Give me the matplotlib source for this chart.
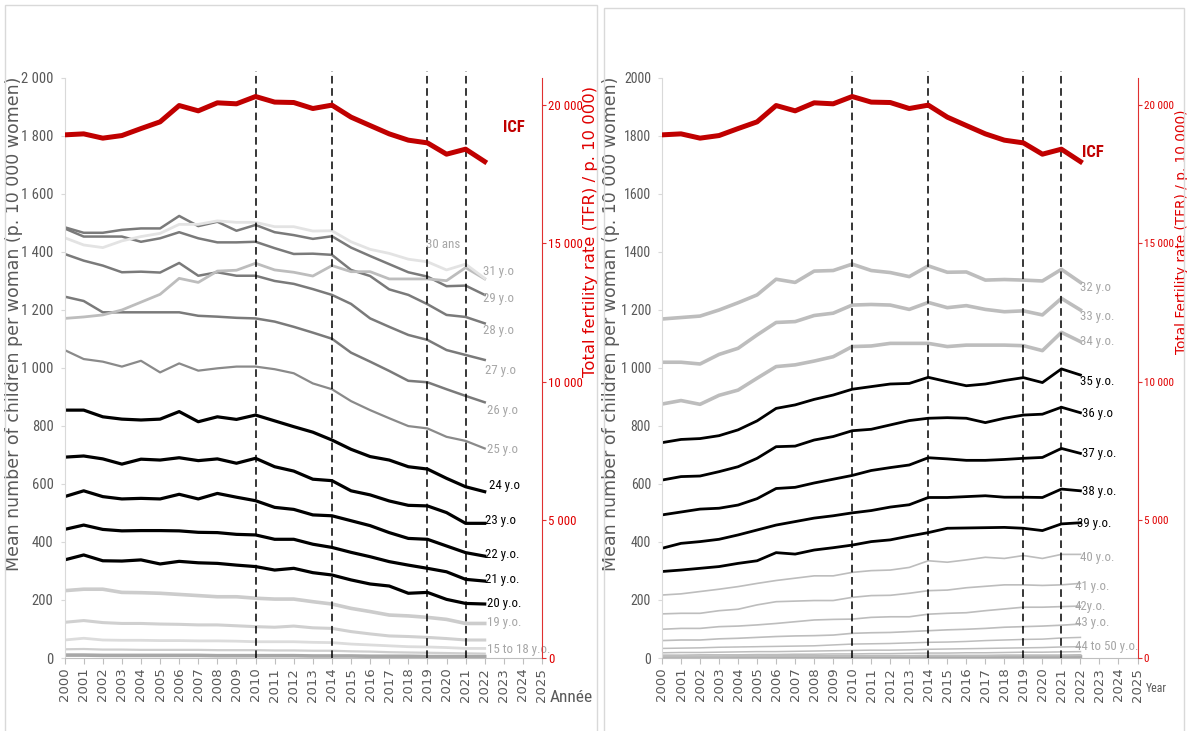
import os
import matplotlib
matplotlib.use("Agg")
import matplotlib.pyplot as plt
import matplotlib.font_manager as fm
from matplotlib.patches import Rectangle

# ---------------- data ----------------
years = list(range(2000, 2023))
icf = [18925, 18961, 18806, 18900, 19153, 19396, 19986, 19794, 20084, 20048, 20312, 20110,
       20095, 19878, 20000, 19566, 19262, 18961, 18733, 18635, 18226, 18407, 17958]

# left panel (ages 15-31)
age31 = [1170, 1175, 1182, 1199, 1226, 1253, 1308, 1294, 1333, 1336, 1360, 1337, 1329, 1316, 1352, 1331, 1331, 1306, 1306, 1306, 1300, 1345, 1306]
age30 = [1448, 1423, 1414, 1437, 1452, 1463, 1494, 1494, 1506, 1501, 1501, 1486, 1486, 1471, 1472, 1434, 1408, 1394, 1374, 1365, 1337, 1357, 1308]
age29 = [1484, 1465, 1465, 1475, 1480, 1480, 1523, 1488, 1503, 1472, 1492, 1467, 1457, 1444, 1453, 1414, 1385, 1357, 1329, 1314, 1281, 1283, 1251]
age28 = [1480, 1452, 1452, 1452, 1434, 1446, 1467, 1446, 1432, 1432, 1434, 1412, 1392, 1393, 1389, 1337, 1316, 1270, 1251, 1219, 1182, 1175, 1153]
age27 = [1392, 1369, 1352, 1329, 1331, 1328, 1361, 1317, 1329, 1317, 1317, 1299, 1289, 1271, 1251, 1220, 1170, 1141, 1113, 1096, 1061, 1044, 1027]
age26 = [1245, 1230, 1191, 1191, 1191, 1191, 1191, 1179, 1176, 1172, 1170, 1159, 1141, 1121, 1100, 1052, 1021, 989, 955, 950, 926, 903, 881]
age25 = [1061, 1030, 1021, 1004, 1024, 984, 1015, 990, 998, 1004, 1004, 995, 981, 946, 926, 885, 854, 826, 799, 791, 762, 748, 722]
age24 = [854, 854, 831, 823, 820, 823, 849, 814, 831, 822, 837, 817, 797, 778, 751, 719, 694, 682, 659, 651, 619, 590, 573]
age23 = [692, 696, 686, 668, 685, 682, 690, 680, 686, 671, 688, 659, 644, 616, 611, 576, 562, 541, 526, 524, 501, 464, 464]
age22 = [556, 576, 556, 548, 550, 548, 564, 548, 567, 554, 542, 519, 512, 493, 490, 473, 456, 432, 412, 409, 386, 363, 351]
age21 = [443, 458, 443, 438, 439, 439, 438, 433, 432, 426, 424, 409, 409, 392, 381, 364, 349, 332, 320, 309, 297, 271, 265]
age20 = [338, 355, 335, 334, 338, 324, 333, 328, 326, 320, 315, 303, 309, 294, 286, 269, 255, 248, 223, 226, 202, 188, 186]
age19 = [232, 237, 237, 226, 225, 223, 219, 215, 211, 211, 206, 203, 203, 194, 186, 171, 160, 148, 145, 140, 133, 119, 119]
age18 = [123, 129, 122, 119, 119, 117, 116, 114, 114, 111, 108, 106, 110, 104, 102, 91, 83, 76, 74, 71, 67, 62, 62]
age17 = [62, 68, 62, 61, 61, 60, 60, 59, 59, 58, 56, 56, 56, 54, 53, 48, 45, 42, 39, 38, 36, 33, 33]
age16 = [30, 31, 29, 29, 28, 28, 28, 28, 27, 27, 27, 26, 26, 25, 25, 23, 22, 20, 19, 18, 17, 16, 15]
age15 = [10, 10, 9, 9, 9, 9, 9, 9, 8, 8, 8, 8, 8, 7, 7, 7, 6, 6, 6, 5, 5, 5, 5]

# right panel (ages 32-50)
age32 = [1168, 1173, 1178, 1199, 1224, 1251, 1305, 1294, 1333, 1335, 1357, 1335, 1328, 1314, 1351, 1329, 1330, 1302, 1304, 1302, 1299, 1339, 1294]
age33 = [1019, 1019, 1013, 1046, 1067, 1113, 1156, 1159, 1180, 1188, 1216, 1218, 1216, 1201, 1225, 1207, 1214, 1201, 1193, 1196, 1182, 1239, 1199]
age34 = [875, 887, 874, 905, 923, 964, 1004, 1010, 1023, 1038, 1073, 1075, 1084, 1084, 1084, 1073, 1078, 1078, 1078, 1076, 1059, 1122, 1090]
age35 = [742, 753, 756, 766, 786, 817, 860, 872, 891, 906, 926, 935, 944, 946, 967, 952, 938, 944, 956, 966, 949, 996, 975]
age36 = [613, 625, 627, 642, 659, 688, 728, 730, 751, 763, 783, 788, 803, 818, 826, 828, 826, 811, 826, 837, 840, 864, 845]
age37 = [493, 503, 513, 516, 527, 549, 584, 588, 603, 616, 629, 646, 656, 665, 690, 686, 681, 681, 684, 688, 691, 722, 705]
age38 = [378, 395, 401, 409, 424, 441, 458, 470, 482, 490, 500, 508, 520, 528, 553, 553, 556, 559, 554, 554, 553, 582, 576]
age39 = [298, 303, 309, 315, 326, 335, 363, 358, 372, 380, 389, 401, 407, 420, 432, 447, 448, 449, 450, 447, 439, 462, 466]
age40 = [217, 221, 229, 237, 246, 257, 267, 275, 283, 283, 295, 301, 303, 312, 335, 330, 338, 347, 343, 353, 343, 357, 357]
age41 = [152, 154, 154, 163, 168, 183, 194, 196, 198, 198, 209, 215, 216, 223, 232, 234, 242, 247, 252, 252, 250, 252, 257]
age42 = [99, 102, 102, 108, 110, 114, 119, 125, 131, 133, 134, 140, 142, 142, 151, 154, 156, 163, 169, 175, 175, 177, 179]
age43 = [60, 62, 62, 66, 68, 71, 74, 76, 77, 79, 85, 87, 88, 91, 94, 97, 99, 102, 106, 108, 110, 113, 117]
age44 = [33, 34, 35, 37, 38, 39, 40, 41, 42, 45, 48, 49, 50, 52, 54, 55, 57, 60, 62, 64, 65, 69, 71]
age45 = [18, 19, 19, 20, 21, 22, 22, 23, 24, 25, 26, 27, 27, 28, 30, 31, 32, 33, 34, 35, 36, 38, 39]
age46 = [10, 10, 11, 11, 11, 12, 12, 13, 13, 14, 14, 15, 15, 16, 17, 17, 18, 18, 19, 20, 20, 21, 22]
age47 = [5, 5, 5, 5, 6, 6, 6, 6, 6, 7, 7, 7, 7, 7, 8, 8, 8, 8, 9, 9, 9, 9, 10]
age48 = [2, 2, 2, 2, 2, 2, 3, 3, 3, 3, 3, 3, 3, 3, 3, 3, 4, 4, 4, 4, 4, 4, 4]

event_years = [2010, 2014, 2019, 2021]

left_yticks = [0, 200, 400, 600, 800, 1000, 1200, 1400, 1600, 1800, 2000]
left_yticklabels = ["0", "200", "400", "600", "800", "1 000", "1 200", "1 400", "1 600", "1 800", "2 000"]
right_yticklabels_main = ["0", "200", "400", "600", "800", "1 000", "1 200", "1400", "1600", "1800", "2000"]
tfr_ticks = [0, 5000, 10000, 15000, 20000]
tfr_ticklabels = ["0", "5 000", "10 000", "15 000", "20 000"]


# ---------------- fonts ----------------
def find_narrow(bold=False):
    files = [f.fname for f in fm.fontManager.ttflist]
    if bold:
        prefs = ["RobotoCondensed-Bold.", "LiberationSansNarrow-Bold.", "DejaVuSansCondensed-Bold."]
    else:
        prefs = ["RobotoCondensed-Regular.", "LiberationSansNarrow-Regular.", "DejaVuSansCondensed."]
    for p in prefs:
        for f in files:
            if os.path.basename(f).startswith(p):
                return f
    return None


NARROW_FILE = find_narrow(False)
NARROW_BOLD_FILE = find_narrow(True)
SCALE = 1.0 if NARROW_FILE else 0.82


def nfont(size, bold=False):
    path = NARROW_BOLD_FILE if bold else NARROW_FILE
    if path:
        return fm.FontProperties(fname=path, size=size)
    return fm.FontProperties(family="Liberation Sans", size=size * SCALE,
                             weight="bold" if bold else "normal")


# ---------------- styles ----------------
RED = "#C00000"
BLACK = "#000000"
DGRAY = "#7a7a7a"
MGRAY = "#bdbdbd"
LGRAY = "#dcdcdc"
TXT_GRAY = "#a6a6a6"
AX_GRAY = "#595959"

left_series = [
    (age15, "#a8a8a8", 2.6), (age16, "#cfcfcf", 1.6), (age17, LGRAY, 2.0), (age18, "#d0d0d0", 2.2),
    (age19, "#cccccc", 2.6), (age20, BLACK, 2.3), (age21, BLACK, 2.3), (age22, BLACK, 2.3),
    (age23, BLACK, 2.3), (age24, BLACK, 2.3), (age25, "#8a8a8a", 1.6), (age26, DGRAY, 1.8),
    (age27, DGRAY, 1.8), (age28, DGRAY, 1.8), (age29, DGRAY, 1.8), (age31, MGRAY, 2.0),
    (age30, "#e3e3e3", 2.0),
]
left_labels = [
    ("30 ans", 2018.95, 1423, TXT_GRAY), ("31 y.o", 2021.9, 1330, TXT_GRAY),
    ("29 y.o", 2021.9, 1240, TXT_GRAY), ("28 y.o", 2021.9, 1130, TXT_GRAY),
    ("27 y.o", 2022.0, 992, TXT_GRAY), ("26 y.o", 2022.1, 854, TXT_GRAY),
    ("25 y.o", 2022.1, 717, TXT_GRAY), ("24 y.o", 2022.2, 593, BLACK),
    ("23 y.o", 2022.0, 475, BLACK), ("22 y.o.", 2022.0, 355, BLACK),
    ("21 y.o.", 2022.0, 269, BLACK), ("20 y.o.", 2022.1, 189, BLACK),
    ("19 y.o.", 2022.1, 124, TXT_GRAY), ("15 to 18 y.o.", 2022.1, 31, TXT_GRAY),
]
right_series = [
    (age48, "#a8a8a8", 2.6), (age47, "#bcbcbc", 1.6), (age46, MGRAY, 1.1), (age45, MGRAY, 1.1),
    (age44, MGRAY, 1.1), (age43, MGRAY, 1.2), (age42, MGRAY, 1.2), (age41, MGRAY, 1.2),
    (age40, MGRAY, 1.2), (age39, BLACK, 2.0), (age38, BLACK, 2.0), (age37, BLACK, 2.0),
    (age36, BLACK, 2.0), (age35, BLACK, 2.0), (age34, MGRAY, 2.6), (age33, MGRAY, 2.6),
    (age32, MGRAY, 2.6),
]
right_labels = [
    ("32 y.o", 2022.0, 1278, TXT_GRAY), ("33 y.o.", 2022.0, 1178, TXT_GRAY),
    ("34 y.o.", 2022.0, 1089, TXT_GRAY), ("35 y.o.", 2022.0, 951, BLACK),
    ("36 y.o", 2022.1, 841, BLACK), ("37 y.o.", 2022.1, 703, BLACK),
    ("38 y.o.", 2022.1, 575, BLACK), ("39 y.o.", 2021.8, 462, BLACK),
    ("40 y.o.", 2022.0, 345, TXT_GRAY), ("41 y.o.", 2021.7, 248, TXT_GRAY),
    ("42y.o.", 2021.7, 176, TXT_GRAY), ("43 y.o.", 2021.7, 124, TXT_GRAY),
    ("44 to 50 y.o.", 2021.7, 41, TXT_GRAY),
]

fig = plt.figure(figsize=(11.87, 7.31), dpi=100)
fig.patch.set_facecolor("white")

# panel frames
fig.add_artist(Rectangle((5 / 1187, -0.01), 592 / 1187, 1 - 5 / 731 + 0.01, transform=fig.transFigure,
                         fill=False, edgecolor="#d9d9d9", linewidth=1.0))
fig.add_artist(Rectangle((604 / 1187, -0.01), 580 / 1187, 1 - 8 / 731 + 0.01, transform=fig.transFigure,
                         fill=False, edgecolor="#d9d9d9", linewidth=1.0))


def make_panel(rect, series, labels, yticklabels, ytick_size, icf_label_pos, xlabel, xlabel_pos,
               xlabel_size, tfr_label, ylabel_x, tfr_label_x, tfr_label_size, tfr_tick_size):
    ax = fig.add_axes(rect)
    ax.set_xlim(2000, 2025)
    ax.set_ylim(0, 2000)
    for vals, col, lw in series:
        ax.plot(years, vals, color=col, lw=lw, solid_joinstyle="round", zorder=2)
    for yr in event_years:
        ax.axvline(yr, ymin=0, ymax=1.012, color="black", lw=1.1, ls=(0, (5, 3)), clip_on=False, zorder=3)
    for txt, x, y, col in labels:
        ax.text(x, y, txt, color=col, fontproperties=nfont(9.3), ha="left", va="center", zorder=4)
    ax.set_yticks(left_yticks)
    ax.set_yticklabels(yticklabels, fontproperties=nfont(ytick_size), color=AX_GRAY)
    ax.set_xticks(range(2000, 2026))
    ax.set_xticklabels([str(y) for y in range(2000, 2026)], rotation=90, fontsize=9.5, color=AX_GRAY)
    for s in ["top", "right"]:
        ax.spines[s].set_visible(False)
    ax.spines["left"].set_color("#d9d9d9")
    ax.spines["bottom"].set_color("#bfbfbf")
    ax.tick_params(axis="y", length=3, color="#d9d9d9", pad=5)
    ax.tick_params(axis="x", length=4, color="#bfbfbf", pad=3)
    ax.set_ylabel("Mean number of children per woman (p. 10 000 women)", fontsize=12.5, color=AX_GRAY)
    ax.yaxis.set_label_coords(ylabel_x, 0.575)

    ax2 = ax.twinx()
    ax2.set_ylim(0, 21000)
    ax2.plot(years, icf, color=RED, lw=3.6, solid_joinstyle="round", zorder=5)
    ax2.set_yticks(tfr_ticks)
    ax2.set_yticklabels(tfr_ticklabels, fontproperties=nfont(tfr_tick_size), color="#e00000")
    for s in ["top", "left", "bottom"]:
        ax2.spines[s].set_visible(False)
    ax2.spines["right"].set_color("#e03030")
    ax2.tick_params(axis="y", length=3, color="#e03030", pad=1.5)
    ax2.set_ylabel(tfr_label, fontsize=tfr_label_size, color="#e00000")
    ax2.yaxis.set_label_coords(tfr_label_x, 0.735)
    ax2.text(icf_label_pos[0], icf_label_pos[1], "ICF", transform=ax.transData, color=RED,
             fontproperties=nfont(12, bold=True), ha="left", va="center")
    fig.text(xlabel_pos[0], xlabel_pos[1], xlabel, fontproperties=nfont(xlabel_size), color=AX_GRAY,
             ha="left", va="center")
    return ax, ax2


make_panel([64.6 / 1187, 73 / 731, 477.4 / 1187, 580.5 / 731], left_series, left_labels,
           left_yticklabels, 10.5, (2022.95, 1829), "Année", (550 / 1187, 1 - 697 / 731), 12.5,
           "Total fertility rate (TFR) / p. 10 000)", -0.087, 1.086, 11.8, 9.3)
make_panel([662 / 1187, 73 / 731, 475.5 / 1187, 580.5 / 731], right_series, right_labels,
           right_yticklabels_main, 10.0, (2022.1, 1740), "Year", (1146 / 1187, 1 - 689 / 731), 8.5,
           "Total Fertility rate (TFR) / p. 10 000)", -0.089, 1.078, 9.8, 8.0)

fig.savefig("out.png", dpi=100, facecolor="white")
